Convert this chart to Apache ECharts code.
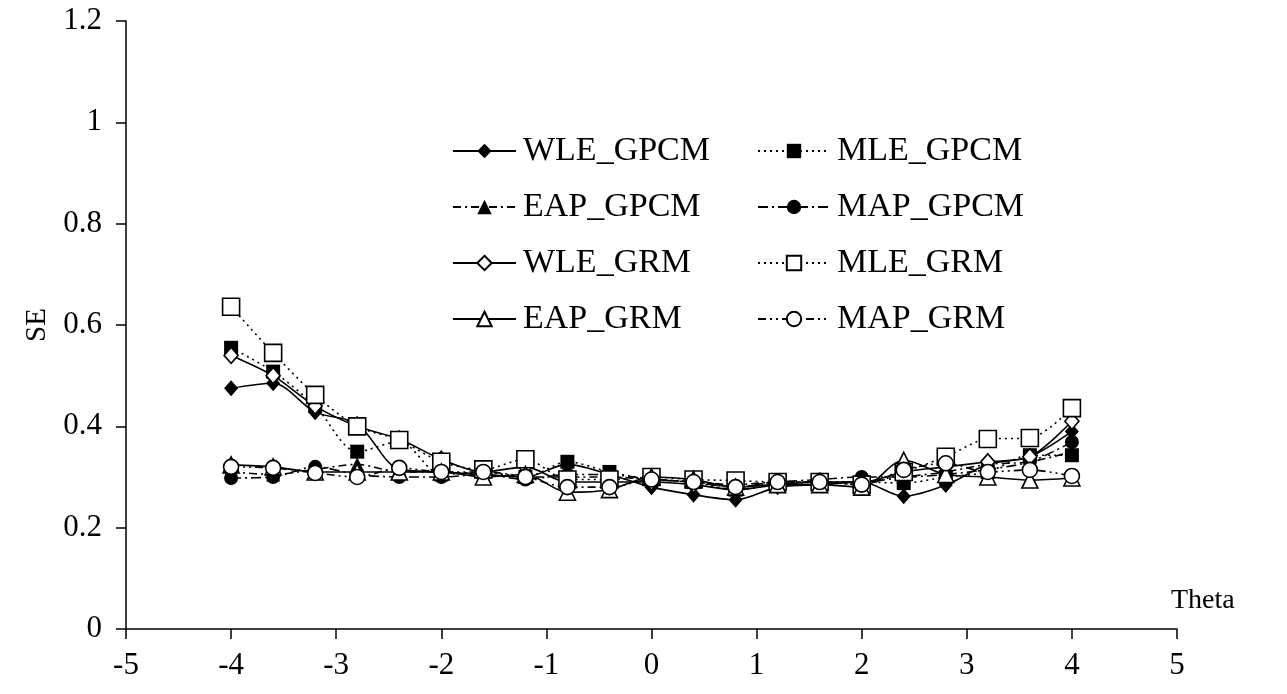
<!DOCTYPE html>
<html>
<head>
<meta charset="utf-8">
<script src="https://cdn.jsdelivr.net/npm/echarts@6/dist/echarts.min.js"></script>
<style>
html, body { margin: 0; padding: 0; background: #fff; }
#chart { width: 1287px; height: 694px; }
</style>
</head>
<body>
<div id="chart"></div>
<script>
var theta = [-4, -3.6, -3.2, -2.8, -2.4, -2, -1.6, -1.2, -0.8, -0.4, 0, 0.4, 0.8, 1.2, 1.6, 2, 2.4, 2.8, 3.2, 3.6, 4];

var wleGpcm = [0.475, 0.485, 0.428, 0.405, 0.315, 0.31, 0.305, 0.30, 0.325, 0.305, 0.28, 0.265, 0.255, 0.28, 0.285, 0.29, 0.262, 0.284, 0.325, 0.34, 0.39];
var mleGpcm = [0.555, 0.508, 0.44, 0.35, 0.37, 0.305, 0.31, 0.30, 0.33, 0.31, 0.295, 0.29, 0.275, 0.285, 0.29, 0.29, 0.288, 0.30, 0.31, 0.343, 0.343];
var eapGpcm = [0.31, 0.305, 0.315, 0.325, 0.31, 0.31, 0.305, 0.30, 0.30, 0.30, 0.295, 0.29, 0.285, 0.29, 0.29, 0.29, 0.30, 0.31, 0.325, 0.33, 0.35];
var mapGpcm = [0.298, 0.30, 0.32, 0.305, 0.30, 0.30, 0.305, 0.295, 0.305, 0.305, 0.295, 0.29, 0.28, 0.29, 0.295, 0.30, 0.30, 0.305, 0.315, 0.33, 0.369];
var wleGrm = [0.54, 0.50, 0.44, 0.40, 0.375, 0.335, 0.31, 0.32, 0.29, 0.29, 0.29, 0.285, 0.275, 0.285, 0.29, 0.29, 0.31, 0.32, 0.33, 0.34, 0.41];
var mleGrm = [0.636, 0.545, 0.462, 0.40, 0.373, 0.33, 0.315, 0.335, 0.295, 0.295, 0.30, 0.295, 0.293, 0.29, 0.29, 0.285, 0.31, 0.34, 0.375, 0.377, 0.436];
var eapGrm = [0.324, 0.32, 0.31, 0.31, 0.31, 0.31, 0.30, 0.305, 0.27, 0.275, 0.30, 0.295, 0.28, 0.285, 0.285, 0.28, 0.333, 0.305, 0.30, 0.294, 0.298];
var mapGrm = [0.32, 0.318, 0.308, 0.30, 0.318, 0.31, 0.31, 0.30, 0.28, 0.28, 0.295, 0.29, 0.28, 0.29, 0.29, 0.285, 0.314, 0.327, 0.31, 0.314, 0.302];

var font = '"Liberation Serif", "Times New Roman", serif';

function pairs(arr) {
	return arr.map(function (v, i) { return [theta[i], v]; });
}

function line(name, data, symbol, size, filled, dash) {
	return {
		name: name,
		type: 'line',
		smooth: 0.3,
		data: pairs(data),
		symbol: symbol,
		symbolSize: size,
		lineStyle: { color: '#000', width: 1.6, type: dash },
		itemStyle: {
			color: filled ? '#000' : '#fff',
			borderColor: '#000',
			borderWidth: filled ? 0 : 1.6
		}
	};
}

var chart = echarts.init(document.getElementById('chart'));

var legendCommon = {
	orient: 'vertical',
	top: 129,
	itemHeight: 18,
	itemGap: 22,
	textStyle: { fontFamily: font, fontSize: 34, color: '#000', padding: [0, 0, 0, 2] }
};

chart.setOption({
	animation: false,
	backgroundColor: '#fff',
	legend: [
		Object.assign({}, legendCommon, { left: 447, itemWidth: 63, data: ['WLE_GPCM', 'EAP_GPCM', 'WLE_GRM', 'EAP_GRM'] }),
		Object.assign({}, legendCommon, { left: 752, itemWidth: 72, data: ['MLE_GPCM', 'MAP_GPCM', 'MLE_GRM', 'MAP_GRM'] })
	],
	grid: { left: 126, right: 110, top: 21, bottom: 65 },
	xAxis: {
		type: 'value',
		min: -5,
		max: 5,
		interval: 1,
		name: 'Theta',
		nameLocation: 'end',
		nameGap: -6,
		nameTextStyle: { fontFamily: font, fontSize: 28, color: '#000', align: 'left', verticalAlign: 'bottom', padding: [0, 0, 14, 0] },
		axisLine: { onZero: false, lineStyle: { color: '#000', width: 1.5 } },
		axisTick: { inside: false, length: 10, lineStyle: { color: '#000', width: 1.5 } },
		axisLabel: { fontFamily: font, fontSize: 31, color: '#000', margin: 21 },
		splitLine: { show: false }
	},
	yAxis: {
		type: 'value',
		min: 0,
		max: 1.2,
		interval: 0.2,
		name: 'SE',
		nameLocation: 'middle',
		nameGap: 72,
		nameTextStyle: { fontFamily: font, fontSize: 29, color: '#000' },
		axisLine: { show: true, onZero: false, lineStyle: { color: '#000', width: 1.5 } },
		axisTick: { show: true, inside: false, length: 10, lineStyle: { color: '#000', width: 1.5 } },
		axisLabel: { fontFamily: font, fontSize: 31, color: '#000', margin: 24 },
		splitLine: { show: false }
	},
	series: [
		line('WLE_GPCM', wleGpcm, 'diamond', [14, 16], true, 'solid'),
		line('MLE_GPCM', mleGpcm, 'rect', 14, true, [2, 4]),
		line('EAP_GPCM', eapGpcm, 'triangle', 14, true, [8, 4, 2, 4]),
		line('MAP_GPCM', mapGpcm, 'circle', 14, true, [10, 4, 2, 4]),
		line('WLE_GRM', wleGrm, 'diamond', [14, 16], false, 'solid'),
		line('MLE_GRM', mleGrm, 'rect', 17, false, [2, 4]),
		line('EAP_GRM', eapGrm, 'triangle', 16, false, 'solid'),
		line('MAP_GRM', mapGrm, 'circle', 15, false, [8, 4, 2, 4, 2, 4])
	]
});
</script>
</body>
</html>
